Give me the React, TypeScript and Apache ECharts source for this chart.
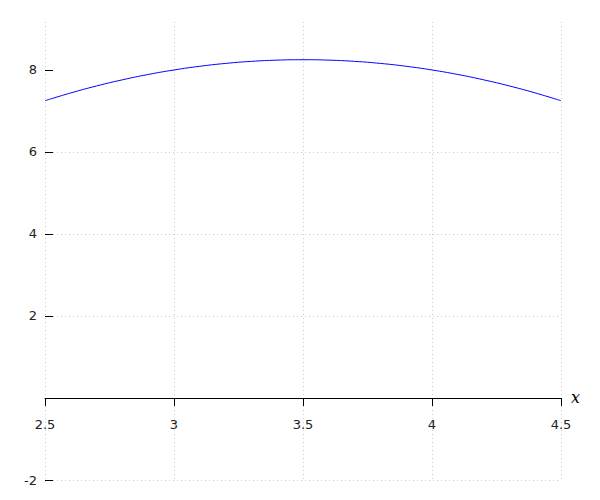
import React, { useEffect, useRef } from "react";
import * as echarts from "echarts";

const xValues = [2.5, 2.6, 2.7, 2.8, 2.9, 3.0, 3.1, 3.2, 3.3, 3.4, 3.5, 3.6, 3.7, 3.8, 3.9, 4.0, 4.1, 4.2, 4.3, 4.4, 4.5];
const yValues = [7.25, 7.44, 7.61, 7.76, 7.89, 8.0, 8.09, 8.16, 8.21, 8.24, 8.25, 8.24, 8.21, 8.16, 8.09, 8.0, 7.89, 7.76, 7.61, 7.44, 7.25];
const yTickValues = [-2, 2, 4, 6, 8];
const xMin = 2.5;
const xMax = 4.5;
const yMin = -2;
const yMax = 9.17;

export default function App() {
  const ref = useRef<HTMLDivElement>(null);
  useEffect(() => {
    if (!ref.current) return;
    const chart = echarts.init(ref.current, undefined, { renderer: "svg" });
    const labelFont = { fontFamily: "DejaVu Sans", fontSize: 13, color: "#222" };
    const dotted = { color: "#cccccc", type: [1, 3], width: 1 };
    const top = 22;
    const bottom = 20;
    const plotH = 500 - top - bottom;
    const zeroPx = top + ((yMax - 0) / (yMax - yMin)) * plotH;
    chart.setOption({
      animation: false,
      grid: [
        { left: 45, right: 39, top, bottom, containLabel: false, outerBoundsMode: "none" },
        { left: 45, right: 39, top: zeroPx - 1, height: 1, containLabel: false, outerBoundsMode: "none" },
      ],
      xAxis: [
        {
          gridIndex: 0,
          type: "value",
          min: xMin,
          max: xMax,
          interval: 0.5,
          axisLine: { show: false },
          axisTick: { show: false },
          axisLabel: { show: false },
          splitLine: { show: true, lineStyle: dotted },
        },
        {
          gridIndex: 1,
          type: "value",
          min: xMin,
          max: xMax,
          interval: 0.5,
          position: "bottom",
          name: "x",
          nameLocation: "end",
          nameGap: 10,
          nameTextStyle: {
            fontFamily: "DejaVu Serif",
            fontStyle: "italic",
            fontSize: 16,
            color: "#000",
            verticalAlign: "middle",
            padding: [6, 0, 0, 0],
          },
          axisLine: { show: true, onZero: false, lineStyle: { color: "#000", width: 1 } },
          axisTick: { show: true, inside: false, length: 8, lineStyle: { color: "#000" } },
          axisLabel: { ...labelFont, margin: 20 },
          splitLine: { show: false },
        },
      ],
      yAxis: [
        {
          gridIndex: 0,
          type: "value",
          min: yMin,
          max: yMax,
          interval: 2,
          axisLine: { show: false, onZero: false },
          axisTick: {
            show: true,
            inside: true,
            length: 8,
            customValues: yTickValues,
            lineStyle: { color: "#000" },
          },
          axisLabel: {
            ...labelFont,
            margin: 8,
            customValues: yTickValues,
            formatter: (v: number) => String(v),
          },
          splitLine: { show: true, showMaxLine: false, lineStyle: dotted },
        },
        {
          gridIndex: 1,
          type: "value",
          min: 0,
          max: 1,
          show: false,
        },
      ],
      series: [
        {
          type: "line",
          xAxisIndex: 0,
          yAxisIndex: 0,
          data: xValues.map((x, i) => [x, yValues[i]]),
          smooth: true,
          showSymbol: false,
          symbol: "none",
          lineStyle: { color: "#0000ff", width: 1 },
        },
      ],
    });
    return () => chart.dispose();
  }, []);
  return (
    <div
      ref={ref}
      style={{ position: "fixed", left: 0, top: 0, width: 600, height: 500, background: "#fff" }}
    />
  );
}
